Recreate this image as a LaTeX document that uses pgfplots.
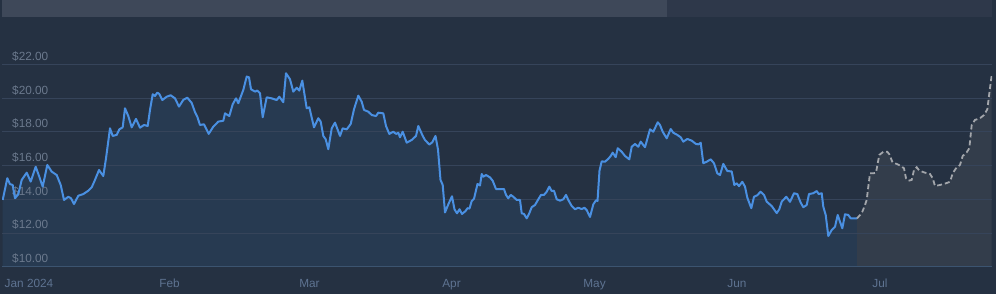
\documentclass[border=0pt]{standalone}
\usepackage{pgfplots}
\pgfplotsset{compat=1.18}
\usepackage{pgfplotstable}
\usepackage{fontspec}
\setmainfont{Liberation Sans}
\definecolor{bgcol}{HTML}{253142}
\definecolor{barL}{HTML}{3E4859}
\definecolor{barR}{HTML}{2E384A}
\definecolor{areacol}{HTML}{273A51}
\definecolor{fccol}{HTML}{333D4B}
\definecolor{linecol}{HTML}{4A90E2}
\definecolor{dashcol}{HTML}{A3A6AB}
\definecolor{gridcol}{HTML}{36445A}
\definecolor{ylab}{HTML}{6B798D}
\definecolor{xlab}{HTML}{5E7391}
\definecolor{basecol}{HTML}{3C5470}

\pgfplotstableread{
x y
2.7 13.96
7.3 15.25
10 14.9
12.7 14.85
15 14.06
18.3 14.3
21.7 15.15
26.7 15.58
30.7 15.05
35.7 15.93
39.3 15.34
42.7 14.75
47.3 16.04
51.7 15.64
56.7 15.44
60.7 14.85
64 13.96
68.3 14.15
71 14.06
74 13.72
78.3 14.21
83.3 14.31
88.3 14.51
91.7 14.71
95 15.15
99 15.74
103.3 15.38
106 16.43
110 18.21
112.7 17.76
116.7 17.82
119.3 18.15
122.7 18.27
125 19.4
128.3 18.94
131.7 18.27
136 18.77
140 18.25
144 18.41
147.7 18.35
150 19.3
152.7 20.23
155 20.13
157.3 20.33
159.3 20.25
162.3 19.89
166.7 20.09
170.7 20.17
175 19.99
179 19.5
183.3 19.9
187.3 20.03
191.7 19.72
195 19.17
197.3 18.9
200 18.41
204 18.45
208.7 17.88
213.3 18.31
218.3 18.61
223.3 18.66
225 19.1
229.3 18.94
232.7 19.64
236 19.99
238.3 19.7
243.3 20.49
246.7 21.28
249 21.24
251 20.53
255 20.39
257.3 20.45
260 20.29
262.7 18.87
266.7 20.05
271.7 19.99
276.7 19.89
279.3 20.09
283.3 19.76
286 21.48
290 21.12
293.3 20.39
296.7 20.62
299.3 20.45
302.3 21.04
306.7 19.4
309.3 19.46
314 18.27
318.3 18.81
320.7 18.61
323.3 17.76
325.7 17.56
328.3 16.97
331.7 18.21
335 18.55
340 17.76
342.7 18.21
346.7 18.15
350.7 18.47
354 19.34
358.3 20.15
361.7 19.79
364 19.3
368.3 19.2
371.7 19.0
376 18.94
378.3 19.14
383.3 19.1
386 18.35
389.3 17.88
393.3 18.01
396 17.88
398.3 17.95
400 17.68
402.7 18.01
406.7 17.36
411.7 17.52
416 17.76
418.3 18.35
422.7 17.76
425 17.52
429.3 17.25
432.3 17.38
435.5 17.76
438 16.95
440.5 15.15
442.7 14.85
445 13.22
448.3 13.7
452 14.18
454.5 13.4
457 13.17
459.5 13.41
462 13.13
465.5 13.3
467.5 13.47
469.5 13.45
471.7 13.9
474 14.03
477.5 14.91
480 14.82
481.7 15.5
483.3 15.34
486 15.44
490 15.3
492.7 15.1
496 14.61
500 14.61
504 14.61
506 14.26
508.3 14.06
510.7 14.26
513.3 14.15
516.7 13.96
520 13.96
521.7 13.17
524 13.13
526.7 12.87
529.3 13.17
531.7 13.53
535 13.66
538.3 14.0
541 14.26
544 14.26
546.7 14.45
549.3 14.75
551.7 14.49
554 14.51
556.7 14.0
560 13.92
563.3 14.0
566 14.26
568.3 13.96
571.7 13.6
575 13.41
578.3 13.5
581.7 13.42
584.3 13.5
586.7 13.36
590 12.95
593.3 13.7
596 13.94
597.5 13.9
599.5 15.7
601.7 16.25
605 16.23
608.3 16.4
610.7 16.57
612.7 16.77
615.7 16.5
617.7 17.03
621.7 16.82
625 16.57
629.3 16.37
631.7 17.12
635 17.28
638.3 17.12
640.7 17.42
645 17.09
650 18.15
653.3 18.01
657.7 18.57
660 18.41
662.7 18.01
666.7 17.62
670.7 18.17
673.3 17.95
677.3 17.82
680.7 17.68
683.3 17.42
687.3 17.58
691.7 17.48
696 17.28
698.5 17.26
700.7 17.36
703.3 16.14
706.7 16.23
710.7 16.37
714 16.14
717.3 15.54
720 15.44
723.3 16.1
727.3 15.68
731.7 15.65
734.3 14.85
736.7 14.95
739 14.78
742.3 15.04
745 14.75
747.3 14.1
751.3 13.47
754 14.15
757.3 14.24
760.5 14.45
764 14.26
766.7 13.86
771.7 13.6
776.7 13.18
779.3 13.41
781.7 13.86
786.3 14.15
790 13.85
794 14.36
797.3 14.31
800.7 13.8
803.3 13.53
806.7 13.66
809 14.31
813.3 14.36
816.7 14.49
818.7 14.31
821.7 14.36
823.3 13.56
825.7 13.07
828.3 11.82
831.7 12.18
835 12.37
837.7 13.07
840 12.67
842.3 12.28
845 13.11
848.3 13.07
850.7 12.87
857 12.87
}\hist

\pgfplotstableread{
x y
857 12.87
861.7 13.17
865 13.66
866.7 13.96
868.3 14.75
870 15.54
873.3 15.54
876 15.58
877.7 16.14
879.3 16.63
883.3 16.82
887.3 16.82
889.3 16.67
892.7 16.17
896.7 16.1
900.7 15.98
904 15.84
906 15.25
908.3 15.1
911.7 15.15
914 15.74
916.7 15.9
919.3 15.7
925 15.58
930 15.5
932.7 15.25
935 14.79
940 14.85
946 14.95
950 15.04
952.7 15.54
956 15.84
960 16.04
962.7 16.57
966.7 16.79
969.3 17.03
971.7 18.41
975 18.71
980 18.81
984 19.0
987.3 19.34
989.3 20.29
991.7 21.38
}\fc

\pgfplotsset{myframe/.style={
  at={(2pt,27.3pt)}, anchor=south west,
  scale only axis, width=990pt, height=227.5pt,
  xmin=2, xmax=992, ymin=10, ymax=23.5}}

\begin{document}
\begin{tikzpicture}[x=1pt,y=1pt]
\fill[bgcol] (0,0) rectangle (996,294);
\fill[barL] (2,277) rectangle (667,294);
\fill[barR] (667,277) rectangle (992,294);
\begin{axis}[
  myframe,
  axis line style={draw=none},
  major tick length=0pt,
  ytick={10,12,14,16,18,20,22},
  yticklabels={\$10.00,\$12.00,\$14.00,\$16.00,\$18.00,\$20.00,\$22.00},
  yticklabel style={anchor=base west, inner sep=0pt, xshift=10pt, yshift=4pt,
    font=\fontsize{11.8}{13}\selectfont, text=ylab},
  xtick={29,169.5,309.5,451.5,594.5,737,880},
  xticklabels={Jan 2024,Feb,Mar,Apr,May,Jun,Jul},
  xticklabel style={anchor=base, inner sep=0pt, yshift=-20.6pt,
    font=\fontsize{11.8}{13}\selectfont, text=xlab},
  axis on top=true,
]
\addplot[fill=areacol, draw=none] table[x=x,y=y]{\hist} \closedcycle;
\addplot[fill=fccol, draw=none] table[x=x,y=y]{\fc} \closedcycle;
\pgfplotsinvokeforeach{12,14,16,18,20,22}{
  \draw[gridcol, line width=0.9pt] (axis cs:2,#1) -- (axis cs:992,#1);
}
\draw[basecol, line width=0.9pt] (axis cs:2,10) -- (axis cs:992,10);
\end{axis}
\begin{axis}[myframe, hide axis]
\addplot[linecol, line width=2pt, line join=round] table[x=x,y=y]{\hist};
\addplot[dashcol, line width=1.8pt, dash pattern=on 5pt off 3pt] table[x=x,y=y]{\fc};
\end{axis}
\end{tikzpicture}
\end{document}
